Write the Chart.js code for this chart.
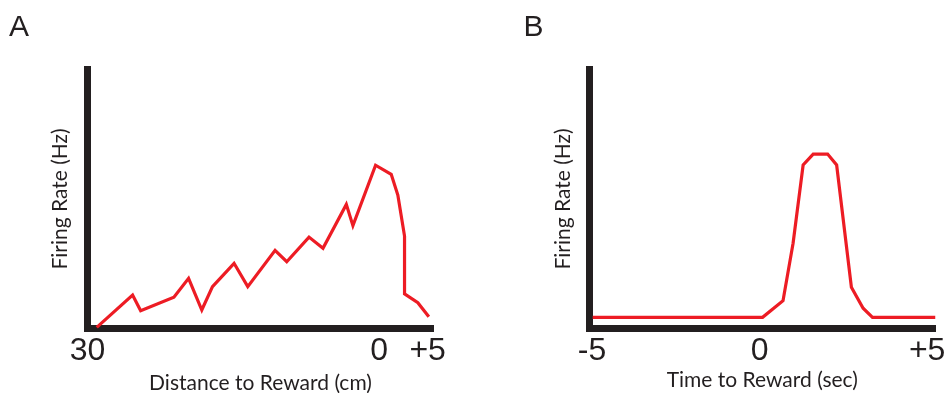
<!DOCTYPE html>
<html>
<head>
<meta charset="utf-8">
<script src="https://cdn.jsdelivr.net/npm/chart.js@4.4.1/dist/chart.umd.min.js"></script>
<style>
  html, body { margin: 0; padding: 0; background: #ffffff; overflow: hidden; width: 946px; height: 393px; }
  #wrapA { position: absolute; left: 0; top: 0; width: 473px; height: 400px; }
  #wrapB { position: absolute; left: 473px; top: 0; width: 490px; height: 400px; }
</style>
</head>
<body>
<div id="wrapA"><canvas id="chartA" width="473" height="400"></canvas></div>
<div id="wrapB"><canvas id="chartB" width="490" height="400"></canvas></div>
<script>
// ---- Panel A: firing rate vs distance to reward (x = -distance, cm) ----
const distA = [-29.05, -25.36, -24.53, -21.11, -19.60, -18.24, -17.14, -14.92, -13.51, -10.70, -9.50,
               -7.21, -5.77, -3.37, -2.69, -0.36, 1.25, 1.93, 2.62, 2.62, 3.99, 5.12];
const rateA = [0.5, 13.0, 6.9, 12.1, 19.4, 7.2, 16.2, 25.2, 16.2, 30.2, 25.8,
               35.3, 31.0, 47.9, 39.7, 63.0, 59.5, 51.5, 35.7, 13.4, 10.0, 4.6];
const tickValsA = [-30, 0, 5];
const tickLabelsA = ['30', '0', '+5'];

// ---- Panel B: firing rate vs time to reward (sec) ----
const timeB = [-4.98, 0.09, 0.70, 1.00, 1.30, 1.60, 2.03, 2.30, 2.74, 3.09, 3.37, 5.25];
const rateB = [4.4, 4.4, 10.8, 32.9, 63.1, 67.3, 67.3, 63.1, 16.0, 7.9, 4.4, 4.4];
const tickValsB = [-5, 0, 5];
const tickLabelsB = ['-5', '0', '+5'];

const INK = '#231f20';
const RED = '#ED1C24';
const TICK_FONT = { family: "'Liberation Sans', Arial, sans-serif", size: 32, weight: 'normal' };
const TITLE_FONT = { family: "Lato, 'Open Sans', sans-serif", size: 21, weight: 'normal' };
const LETTER_FONT = { family: "'Liberation Sans', Arial, sans-serif", size: 30, weight: 'normal' };

function makeChart(id, cfg) {
  const points = cfg.xs.map((x, i) => ({ x: x, y: cfg.ys[i] }));
  return new Chart(document.getElementById(id), {
    type: 'line',
    data: {
      datasets: [{
        data: points,
        borderColor: RED,
        borderWidth: 3.2,
        pointRadius: 0,
        tension: 0,
        fill: false,
        borderJoinStyle: 'miter'
      }]
    },
    options: {
      responsive: false,
      animation: false,
      events: [],
      layout: { padding: { left: cfg.padLeft, right: cfg.padRight, top: 0, bottom: 0 } },
      plugins: {
        legend: { display: false },
        tooltip: { enabled: false },
        title: {
          display: true,
          text: cfg.letter,
          position: 'top',
          align: 'start',
          color: INK,
          font: LETTER_FONT,
          padding: { top: 9.9, bottom: 23.3 }
        }
      },
      scales: {
        x: {
          type: 'linear',
          min: cfg.xmin,
          max: cfg.xmax,
          afterBuildTicks: (s) => { s.ticks = cfg.tickVals.map(v => ({ value: v })); },
          afterFit: (s) => { s.height = 71.3; },
          grid: { display: false, drawTicks: false },
          border: { display: true, color: INK, width: 7 },
          ticks: {
            autoSkip: false,
            maxRotation: 0,
            padding: 3,
            color: INK,
            font: TICK_FONT,
            callback: (v, i) => cfg.tickLabels[i]
          },
          title: {
            display: true,
            text: cfg.xTitle,
            color: INK,
            font: TITLE_FONT,
            padding: { top: 0, bottom: cfg.xTitlePad }
          }
        },
        y: {
          type: 'linear',
          min: 0,
          max: 100,
          afterFit: (s) => { s.width = cfg.yWidth; },
          grid: { display: false, drawTicks: false },
          border: { display: true, color: INK, width: 7 },
          ticks: { display: false },
          title: {
            display: true,
            text: 'Firing Rate (Hz)',
            color: INK,
            font: TITLE_FONT,
            padding: { top: cfg.yTitlePad, bottom: 0 }
          }
        }
      }
    }
  });
}

makeChart('chartA', {
  xs: distA, ys: rateA, letter: 'A',
  xmin: -30, xmax: 5.6, tickVals: tickValsA, tickLabels: tickLabelsA,
  xTitle: 'Distance to Reward (cm)', xTitlePad: 4.3,
  padLeft: 9, padRight: 39.5, yWidth: 78.5, yTitlePad: 39.0
});

makeChart('chartB', {
  xs: timeB, ys: rateB, letter: 'B',
  xmin: -5.09, xmax: 5.25, tickVals: tickValsB, tickLabels: tickLabelsB,
  xTitle: 'Time to Reward (sec)', xTitlePad: 7.0,
  padLeft: 50.5, padRight: 27.5, yWidth: 65.5, yTitlePad: 27.2
});
</script>
</body>
</html>
